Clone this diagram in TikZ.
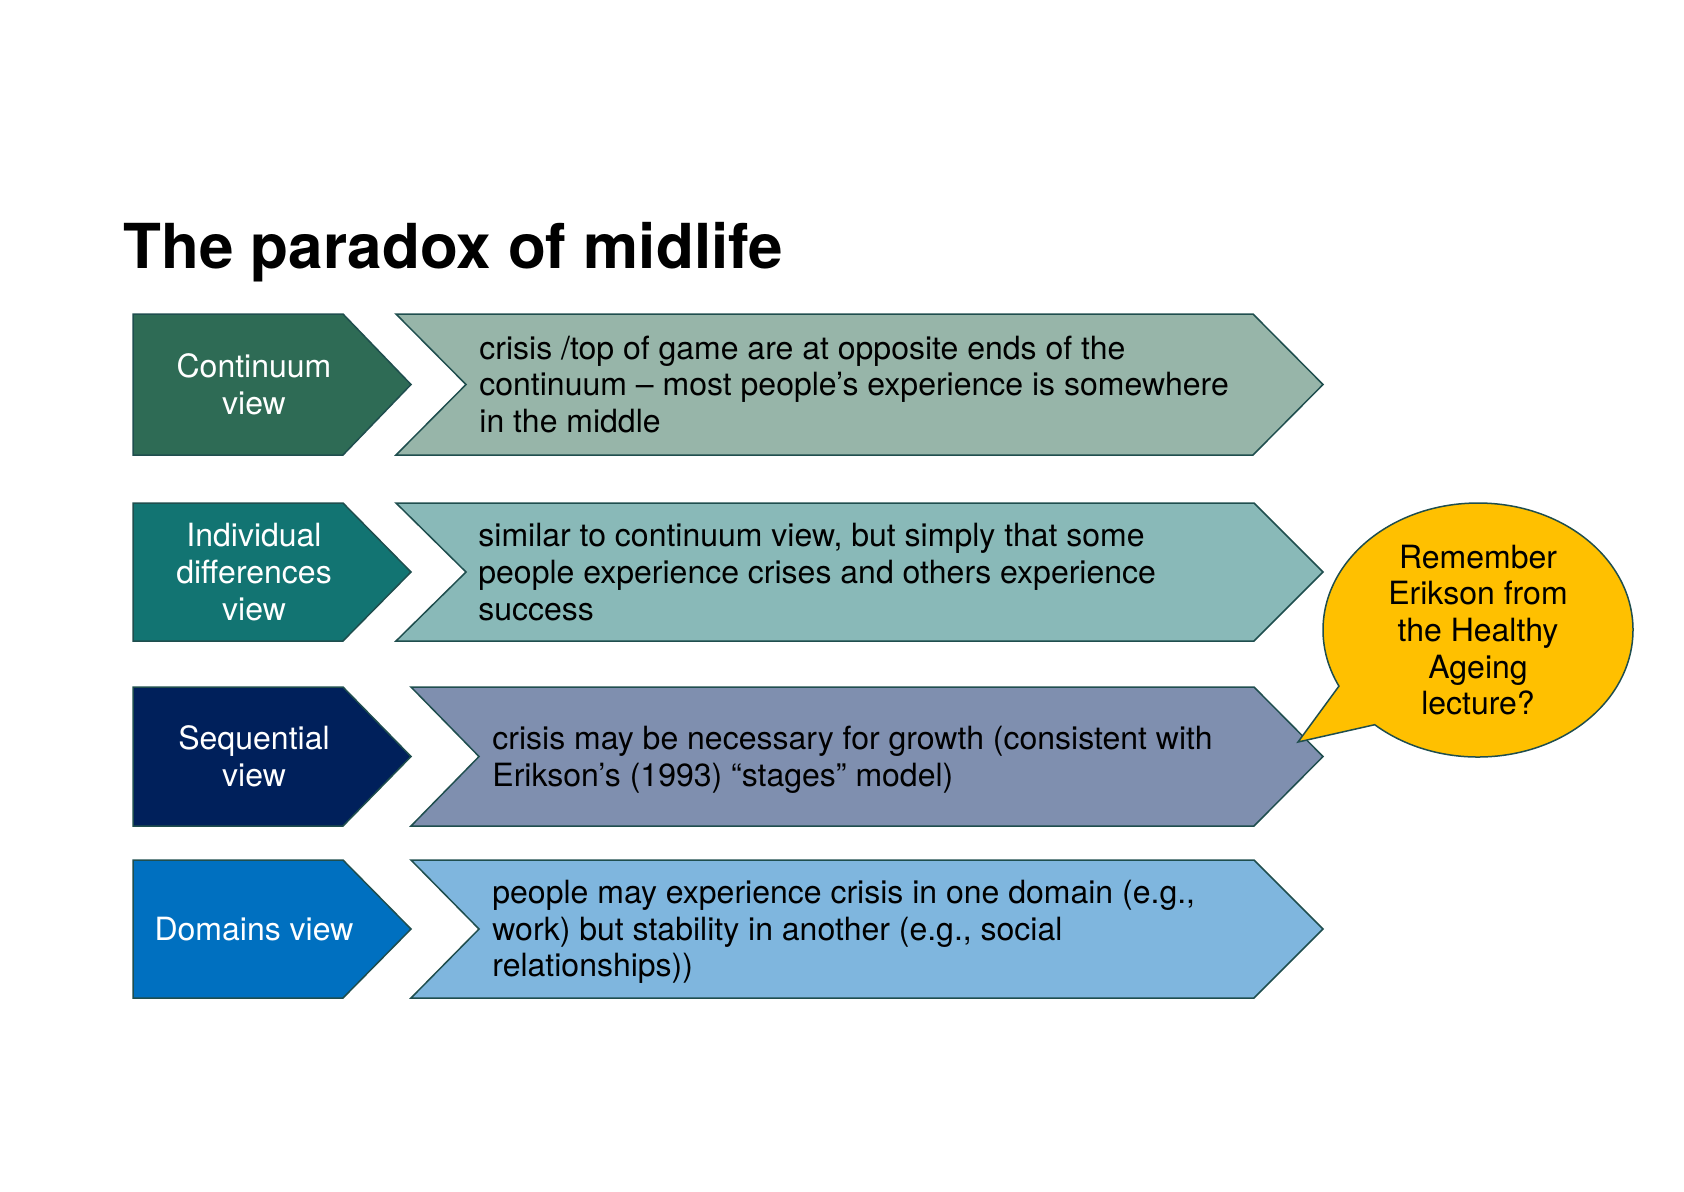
\documentclass[tikz,border=0pt]{standalone}
\usepackage{fontspec}
\setmainfont{TeX Gyre Heros}
\usepackage{xcolor}
\definecolor{cEdge}{HTML}{1F4E4E}
\definecolor{cContDark}{HTML}{2E6B55}
\definecolor{cContLight}{HTML}{97B5A9}
\definecolor{cIndDark}{HTML}{127472}
\definecolor{cIndLight}{HTML}{89B9B8}
\definecolor{cSeqDark}{HTML}{00205B}
\definecolor{cSeqLight}{HTML}{7F8FAF}
\definecolor{cDomDark}{HTML}{0070C0}
\definecolor{cDomLight}{HTML}{7FB6DE}
\definecolor{cNote}{HTML}{FFC000}
\usetikzlibrary{positioning,shapes.callouts}
\tikzset{
  node-box/.style={draw=cEdge,line width=0.75pt},
  node-label/.style={text=white,align=center,inner sep=0pt,
    font=\fontsize{16}{18.3}\selectfont},
  node-text/.style={anchor=west,align=left,inner sep=0pt,
    font=\fontsize{16}{18.3}\selectfont},
  node-note/.style={ellipse callout,draw=cEdge,line width=0.75pt,fill=cNote,
    minimum width=155pt,minimum height=127pt,inner sep=0pt,
    callout pointer arc=22,align=center,font=\fontsize{16}{18.3}\selectfont},
  node-title/.style={anchor=base west,inner sep=0pt,
    font=\fontsize{31}{36}\selectfont\bfseries},
}
\begin{document}
\begin{tikzpicture}[x=0.5pt,y=-0.5pt]
  \useasboundingbox (0,0) rectangle (1684,1191);
  \node[node-title] (title) at (123,268) {The paradox of midlife};
  % continuum
  \draw[node-box,fill=cContDark] (133,314) -- (343,314) -- (411,384.5) -- (343,455) -- (133,455) -- cycle;
  \draw[node-box,fill=cContLight] (396,314) -- (1253,314) -- (1323,384.5) -- (1253,455) -- (396,455) -- (466,384.5) -- cycle;
  \node[node-label] (cont) at (254,384.5) {Continuum\\view};
  \node[node-text] (cont-txt) at (479,384.5) {crisis /top of game are at opposite ends of the\\continuum – most people’s experience is somewhere\\in the middle};
  % individual differences
  \draw[node-box,fill=cIndDark] (133,503) -- (343,503) -- (411,572) -- (343,641) -- (133,641) -- cycle;
  \draw[node-box,fill=cIndLight] (396,503) -- (1254,503) -- (1323,572) -- (1254,641) -- (396,641) -- (466,572) -- cycle;
  \node[node-label] (ind) at (254,572) {Individual\\differences\\view};
  \node[node-text] (ind-txt) at (478,572) {similar to continuum view, but simply that some\\people experience crises and others experience\\success};
  % sequential
  \draw[node-box,fill=cSeqDark] (133,687) -- (343,687) -- (411,756.5) -- (343,826) -- (133,826) -- cycle;
  \draw[node-box,fill=cSeqLight] (411,687) -- (1254,687) -- (1323,756.5) -- (1254,826) -- (411,826) -- (479,756.5) -- cycle;
  \node[node-label] (seq) at (254,756.5) {Sequential\\view};
  \node[node-text] (seq-txt) at (492,760) {crisis may be necessary for growth (consistent with\\Erikson’s (1993) “stages” model)};
  % domains
  \draw[node-box,fill=cDomDark] (133,860) -- (343,860) -- (411,929) -- (343,998) -- (133,998) -- cycle;
  \draw[node-box,fill=cDomLight] (411,860) -- (1254,860) -- (1323,929) -- (1254,998) -- (411,998) -- (479,929) -- cycle;
  \node[node-label] (dom) at (254,929) {Domains view};
  \node[node-text] (dom-txt) at (492,932) {people may experience crisis in one domain (e.g.,\\work) but stability in another (e.g., social\\relationships))};
  % callout
  \node[node-note,callout absolute pointer={(1298,742)}] (note) at (1478,630) {Remember\\Erikson from\\the Healthy\\Ageing\\lecture?};
\end{tikzpicture}
\end{document}
